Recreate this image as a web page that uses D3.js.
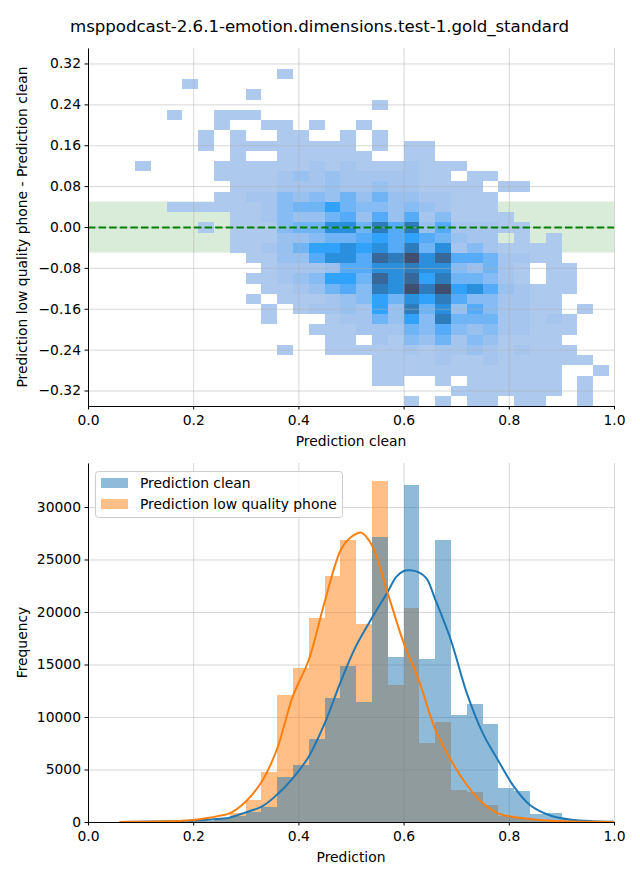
<!DOCTYPE html>
<html><head><meta charset="utf-8">
<script src="https://cdn.jsdelivr.net/npm/d3@7"></script>
<style>
html,body{margin:0;padding:0;background:#fff}
svg{display:block}
text{font-family:"DejaVu Sans",sans-serif;fill:#000}
</style></head><body>
<svg id="c" width="640" height="880"></svg>
<script>
const titleText = "msppodcast-2.6.1-emotion.dimensions.test-1.gold_standard";
const labelClean = "Prediction clean";
const labelPhone = "Prediction low quality phone";
const yLabelTop = "Prediction low quality phone - Prediction clean";
const xTicks = [0, 0.2, 0.4, 0.6, 0.8, 1.0];
const yTicksTop = [-0.32, -0.24, -0.16, -0.08, 0, 0.08, 0.16, 0.24, 0.32];
const yTicksBottom = [0, 5000, 10000, 15000, 20000, 25000, 30000];
const binStart = 0.08935, binWidth = 0.03004;
const rowStart = 0.3092, rowHeight = 0.02;
// 2D histogram levels (base 12), one string per row from the top, one char per x bin
const heatRows = [
"0000000001",
"0001",
"00000001",
"0000000000000001",
"00100111",
"000001001101001",
"0000101001100101",
"0000101111111101011",
"0000001001111110011",
"10000"+"1111112121112111",
"00000"+"111123232222211"+"0"+"11",
"000000"+"1112223223221111"+"0"+"11",
"00000"+"112243435353322111",
"00"+"111111"+"2"+"45575443432111",
"000000"+"112433563636241111",
"000010"+"1114558859693622211",
"000000"+"111334556767653220101",
"000000"+"112357787869582421111",
"0000000"+"11336886a9b8a6652211",
"00000000"+"12223668898843521011",
"0000000"+"11234775a8a7955421011",
"00000000"+"112356498b9b78632111",
"0000000"+"10111234758796442211",
"00000000"+"101223273958364221101",
"00000000"+"10001225374955522121",
"00000000000"+"11122254643422111",
"000000000000"+"110214352431111",
"000000000"+"100"+"1111121223212111",
"000000000000000"+"11112112111111",
"000000000000000"+"111111111111"+"001",
"000000000000000"+"1100101111110"+"1",
"00000000000000000000"+"111111101",
"00000000000000000"+"101011011001"
];
const heatLevels = [1,2,3,4,5,6,7,8,9,10,11];
const heatColors = ["#adc9ee","#a5c5ef","#99c1f0","#86bbf3","#6fb4f5","#55abf7","#31a2f9","#2a8fdc","#2f7cbc","#38679a","#3f4f70"];
const histClean = [20,25,40,60,100,250,570,952,1430,4286,5429,7905,11810,14857,11430,27143,15714,32095,15524,26857,10190,11238,9333,3238,2952,800,830,250,100,50];
const histPhone = [20,20,40,60,100,300,900,2095,4762,12095,14667,19430,23430,26857,18857,32476,13048,20381,7524,9524,3048,2857,1619,600,400,150,100,60,30,10];
const kdeX1 = [.06,.12,.18,.22,.25,.2693,.2997,.3302,.3587,.3892,.4196,.45,.4805,.509,.5395,.5699,.5864,.6004,.6118,.6289,.6435,.6594,.6898,.7203,.7507,.7793,.8097,.8401,.88,.92,.96,1.0];
const kdeClean = [10,40,90,180,300,413,921,1460,2571,4159,6222,9397,13365,16698,19397,21937,23365,23905,23968,23778,23206,21302,17333,12254,8445,5905,3365,1619,600,220,80,30];
const kdeX2 = [.06,.1,.15,.2,.23,.25,.2693,.2997,.3302,.3587,.3892,.4196,.45,.4805,.4976,.5198,.5395,.5699,.6004,.6289,.6594,.6898,.7203,.7507,.7793,.8097,.8401,.88,.92,.96,1.0];
const kdePhone = [10,25,60,200,400,600,826,1937,3841,6857,11937,15429,20984,25905,27016,27556,26381,21778,17016,13524,8921,5905,3524,1778,825,476,286,120,50,20,8];

const svg = d3.select("#c");
const x = d3.scaleLinear().domain([0,1]).range([88,614]);
const yT = d3.scaleLinear().domain([-0.3503,0.3503]).range([406,48]);
const yB = d3.scaleLinear().domain([0,34190]).range([822,463]);
const color = d3.scaleLinear().domain(heatLevels).range(heatColors);

svg.append("text").attr("x",319.5).attr("y",32).attr("text-anchor","middle").style("font-size","16.67px").attr("textLength",499).text(titleText);

function grid(g, yScale, yTicks){
  const gs = g.append("g").attr("stroke","#b0b0b0").attr("stroke-opacity",0.5).attr("stroke-width",1);
  gs.selectAll("line.v").data(xTicks).join("line").attr("class","v").attr("x1",d=>x(d)+.5).attr("x2",d=>x(d)+.5)
    .attr("y1",yScale.range()[0]).attr("y2",yScale.range()[1]);
  gs.selectAll("line.h").data(yTicks).join("line").attr("class","h").attr("y1",d=>yScale(d)+.5).attr("y2",d=>yScale(d)+.5)
    .attr("x1",x.range()[0]).attr("x2",x.range()[1]);
}
function axes(g, yScale, yTicks, yFmt, xLabel, yLabel, xLabelY, yLabelX){
  const ax = g.append("g").attr("transform",`translate(0,${yScale.range()[0]})`)
    .call(d3.axisBottom(x).tickValues(xTicks).tickFormat(d3.format(".1f")).tickSize(3.5).tickSizeOuter(0).tickPadding(5.5));
  const ay = g.append("g").attr("transform",`translate(${x.range()[0]},0)`)
    .call(d3.axisLeft(yScale).tickValues(yTicks).tickFormat(yFmt).tickSize(3.5).tickSizeOuter(0).tickPadding(3.5));
  [ax,ay].forEach(a=>{a.selectAll("text").style("font-size","13.89px").style("font-family",'"DejaVu Sans"');
    a.selectAll("path,line").attr("stroke","#000").attr("stroke-width",1);});
  g.append("text").attr("x",(x.range()[0]+x.range()[1])/2).attr("y",xLabelY).attr("text-anchor","middle").style("font-size","13.89px").text(xLabel);
  const cy=(yScale.range()[0]+yScale.range()[1])/2;
  g.append("text").attr("transform",`translate(${yLabelX},${cy}) rotate(-90)`).attr("text-anchor","middle").style("font-size","13.89px").text(yLabel);
}

// top panel
const topG = svg.append("g");
topG.append("rect").attr("x",x(0)).attr("width",x(1)-x(0)).attr("y",yT(0.05)).attr("height",yT(-0.05)-yT(0.05))
  .attr("fill","#008000").attr("fill-opacity",0.15);
const cells = [];
heatRows.forEach((r,j)=>{ for(let i=0;i<r.length;i++){ const v=parseInt(r[i],12); if(v>0) cells.push({i,j,v}); } });
topG.append("g").attr("shape-rendering","crispEdges").selectAll("rect").data(cells).join("rect")
  .attr("x",d=>x(binStart+d.i*binWidth)).attr("width",d=>x(binStart+(d.i+1)*binWidth)-x(binStart+d.i*binWidth))
  .attr("y",d=>yT(rowStart-d.j*rowHeight)).attr("height",d=>yT(rowStart-(d.j+1)*rowHeight)-yT(rowStart-d.j*rowHeight))
  .attr("fill",d=>color(d.v));
grid(topG,yT,yTicksTop);
topG.append("line").attr("x1",x(0)).attr("x2",x(1)).attr("y1",yT(0)+.5).attr("y2",yT(0)+.5)
  .attr("stroke","#008000").attr("stroke-width",2).attr("stroke-dasharray","7.4,3.2");
axes(topG,yT,yTicksTop,d3.format(".2f"),labelClean,yLabelTop,446,27);

// bottom panel
const bot = svg.append("g");
function bars(vals,col){
  bot.append("g").attr("shape-rendering","crispEdges").selectAll("rect").data(vals).join("rect")
    .attr("x",(d,i)=>x(binStart+i*binWidth)).attr("width",(d,i)=>x(binStart+(i+1)*binWidth)-x(binStart+i*binWidth))
    .attr("y",d=>yB(d)).attr("height",d=>yB(0)-yB(d)).attr("fill",col).attr("fill-opacity",0.5);
}
grid(bot,yB,yTicksBottom);
bars(histPhone,"#ff7f0e");
bars(histClean,"#1f77b4");
function curve(xs,ys,col){
  const line=d3.line().x(d=>x(d[0])).y(d=>yB(d[1])).curve(d3.curveCatmullRom.alpha(0.5));
  bot.append("path").attr("d",line(d3.zip(xs,ys))).attr("fill","none").attr("stroke",col).attr("stroke-width",2);
}
curve(kdeX1,kdeClean,"#1f77b4");
curve(kdeX2,kdePhone,"#ff7f0e");
axes(bot,yB,yTicksBottom,d3.format("d"),"Prediction","Frequency",862,27);

// legend
const lg = bot.append("g");
lg.append("rect").attr("x",95.5).attr("y",471.5).attr("width",247).attr("height",46).attr("rx",3)
  .attr("fill","#fff").attr("fill-opacity",0.8).attr("stroke","#ccc").attr("stroke-width",1);
[[labelClean,"#1f77b4",478],[labelPhone,"#ff7f0e",499]].forEach(([t,c,yy])=>{
  lg.append("rect").attr("x",101).attr("y",yy).attr("width",27).attr("height",10).attr("fill",c).attr("fill-opacity",0.5);
  lg.append("text").attr("x",140).attr("y",yy+10).style("font-size","13.89px").text(t);
});
</script></body></html>
